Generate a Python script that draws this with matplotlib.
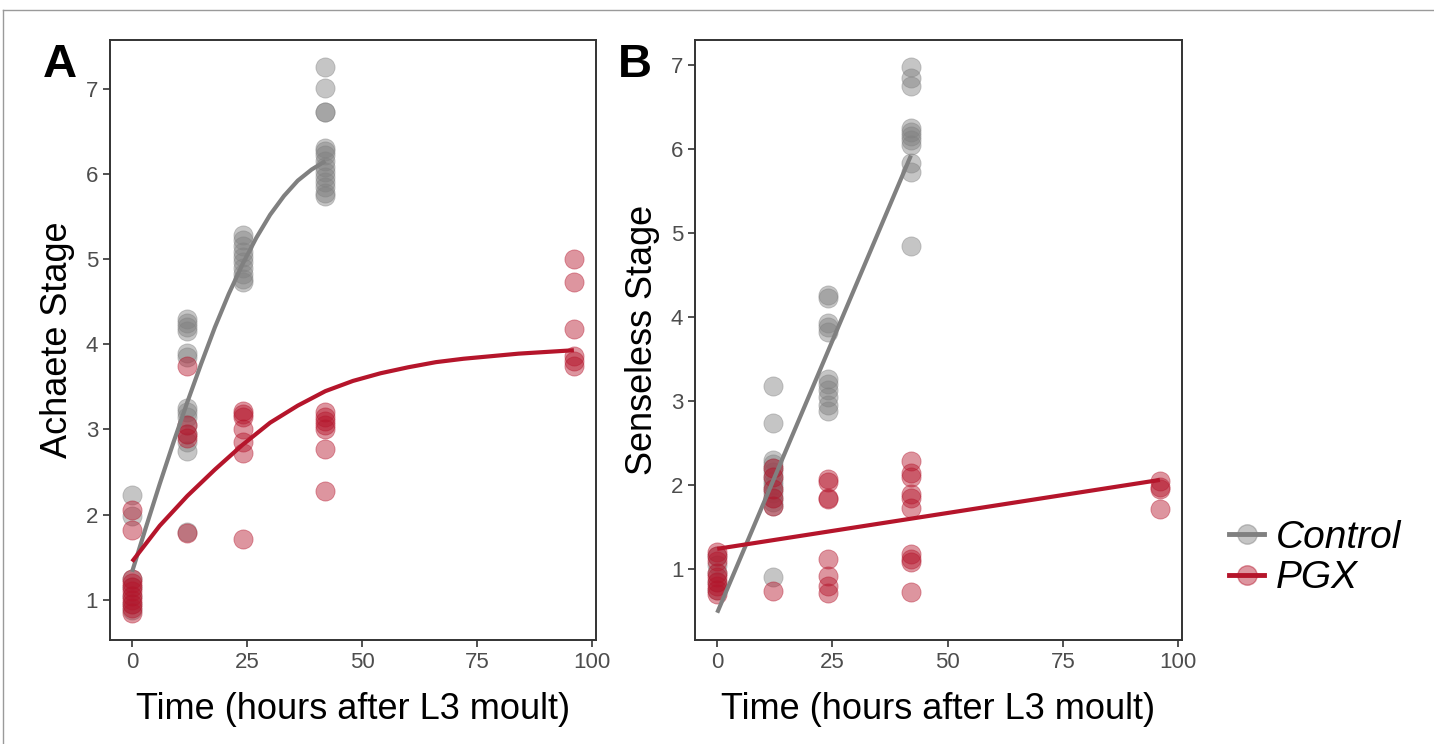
import matplotlib
matplotlib.use("Agg")
import matplotlib.pyplot as plt
from matplotlib.lines import Line2D

plt.rcParams['font.family'] = ['Liberation Sans', 'DejaVu Sans']

# ---- data (stage per larva, by hour after L3 moult) ----
# panel A: Achaete
ach_ctrl = {0: [2.23, 1.99, 1.25, 1.15, 1.05, 0.95, 0.88],
            12: [4.30, 4.25, 4.20, 4.15, 3.90, 3.85, 3.25, 3.20, 3.15, 3.05, 2.95, 2.85, 2.75, 1.80],
            24: [5.28, 5.22, 5.15, 5.08, 5.02, 4.96, 4.90, 4.83, 4.77, 4.73],
            42: [7.25, 7.01, 6.73, 6.72, 6.30, 6.27, 6.22, 6.15, 6.08, 6.02, 5.96, 5.90, 5.84, 5.78, 5.74]}
ach_pgx = {0: [2.06, 1.82, 1.25, 1.20, 1.15, 1.10, 1.05, 1.00, 0.95, 0.90, 0.85],
           12: [3.74, 3.05, 2.95, 2.90, 1.78],
           24: [3.22, 3.18, 3.15, 3.00, 2.85, 2.72, 1.71],
           42: [3.20, 3.15, 3.10, 3.05, 3.00, 2.77, 2.28],
           96: [5.00, 4.73, 4.18, 3.86, 3.80, 3.75]}

# panel B: Senseless
sens_ctrl = {0: [1.15, 1.05, 0.95, 0.85, 0.75],
             12: [3.18, 2.74, 2.30, 2.25, 2.20, 2.15, 2.10, 2.05, 2.00, 1.95, 1.90, 1.85, 1.80, 1.75, 0.90],
             24: [4.26, 4.22, 3.93, 3.88, 3.82, 3.26, 3.20, 3.13, 3.05, 2.95, 2.88],
             42: [6.97, 6.84, 6.75, 6.25, 6.20, 6.15, 6.10, 6.05, 5.83, 5.73, 4.84]}
sens_pgx = {0: [1.20, 1.15, 1.10, 0.95, 0.90, 0.85, 0.80, 0.75, 0.70],
            12: [2.20, 2.10, 1.95, 1.85, 1.75, 0.74],
            24: [2.07, 2.03, 1.85, 1.83, 1.12, 0.92, 0.80, 0.71],
            42: [2.28, 2.14, 2.10, 1.89, 1.85, 1.73, 1.18, 1.12, 1.08, 0.73],
            96: [2.05, 1.98, 1.95, 1.71]}

# fitted curves
ach_ctrl_fit_t = [0, 3, 6, 9, 12, 15, 18, 21, 24, 27, 30, 33, 36, 39, 42]
ach_ctrl_fit = [1.33, 1.85, 2.36, 2.85, 3.32, 3.77, 4.20, 4.59, 4.94, 5.25, 5.52, 5.74, 5.92, 6.05, 6.15]
ach_pgx_fit_t = [0, 6, 12, 18, 24, 30, 36, 42, 48, 54, 60, 66, 72, 78, 84, 90, 96]
ach_pgx_fit = [1.45, 1.87, 2.22, 2.53, 2.82, 3.08, 3.28, 3.45, 3.57, 3.66, 3.73, 3.79, 3.83, 3.86, 3.89, 3.91, 3.93]
sens_ctrl_fit_t = [0, 42]
sens_ctrl_fit = [0.48, 5.92]
sens_pgx_fit_t = [0, 96]
sens_pgx_fit = [1.24, 2.06]

groups = ["Control", "PGX"]
colors = {"Control": "#808080", "PGX": "#B5152B"}
xticks = [0, 25, 50, 75, 100]
yticks = [1, 2, 3, 4, 5, 6, 7]


def flat(d):
    xs, ys = [], []
    for t, vals in d.items():
        xs += [t] * len(vals)
        ys += vals
    return xs, ys


fig = plt.figure(figsize=(14.34, 7.44), dpi=100)
axA = fig.add_axes([0.0767, 0.1398, 0.3389, 0.8064])
axB = fig.add_axes([0.4847, 0.1398, 0.3396, 0.8064])

panels = [
    (axA, ach_ctrl, ach_pgx, (ach_ctrl_fit_t, ach_ctrl_fit), (ach_pgx_fit_t, ach_pgx_fit), "Achaete Stage"),
    (axB, sens_ctrl, sens_pgx, (sens_ctrl_fit_t, sens_ctrl_fit), (sens_pgx_fit_t, sens_pgx_fit), "Senseless Stage"),
]

for ax, ctrl, pgx, cfit, pfit, ylab in panels:
    for name, d in zip(groups, [ctrl, pgx]):
        xs, ys = flat(d)
        ax.scatter(xs, ys, s=190, color=colors[name], alpha=0.45,
                   edgecolors=colors[name], linewidths=0.6, zorder=2)
    ax.plot(cfit[0], cfit[1], color=colors["Control"], lw=3, zorder=3,
            solid_capstyle='butt', solid_joinstyle='round')
    ax.plot(pfit[0], pfit[1], color=colors["PGX"], lw=3, zorder=3,
            solid_capstyle='butt', solid_joinstyle='round')
    ax.margins(0.05)
    ax.set_xticks(xticks)
    ax.set_yticks(yticks)
    ax.tick_params(direction='out', length=5, width=1.2, color='#333333',
                   labelcolor='#4D4D4D', labelsize=16)
    for sp in ax.spines.values():
        sp.set_color('#333333')
        sp.set_linewidth(1.4)
    ax.set_xlabel("Time (hours after L3 moult)", fontsize=26, labelpad=14)
    ax.set_ylabel(ylab, fontsize=26, labelpad=8)

fig.text(60 / 1434, 1 - 65 / 744, "A", fontsize=34, fontweight='bold', ha='center', va='center')
fig.text(635 / 1434, 1 - 65 / 744, "B", fontsize=34, fontweight='bold', ha='center', va='center')

handles = []
for name in groups:
    c = matplotlib.colors.to_rgba(colors[name])
    handles.append(Line2D([0], [0], color=c, lw=3.5, marker='o', markersize=14,
                          markerfacecolor=(c[0], c[1], c[2], 0.45),
                          markeredgecolor=(c[0], c[1], c[2], 0.45)))
leg = fig.legend(handles, groups, loc='center left', bbox_to_anchor=(1210 / 1434, 1 - 558 / 744),
                 frameon=False, borderpad=0, handlelength=0.9, handletextpad=0.3,
                 labelspacing=0.12, prop={'size': 28, 'style': 'italic'})

# thin outer frame (top and left edges visible)
fig.add_artist(Line2D([3 / 1434, 1.0], [1 - 10 / 744, 1 - 10 / 744], color='#9A9A9A', lw=1,
                      transform=fig.transFigure))
fig.add_artist(Line2D([3 / 1434, 3 / 1434], [0.0, 1 - 10 / 744], color='#9A9A9A', lw=1,
                      transform=fig.transFigure))

fig.savefig("out.png", dpi=100)
